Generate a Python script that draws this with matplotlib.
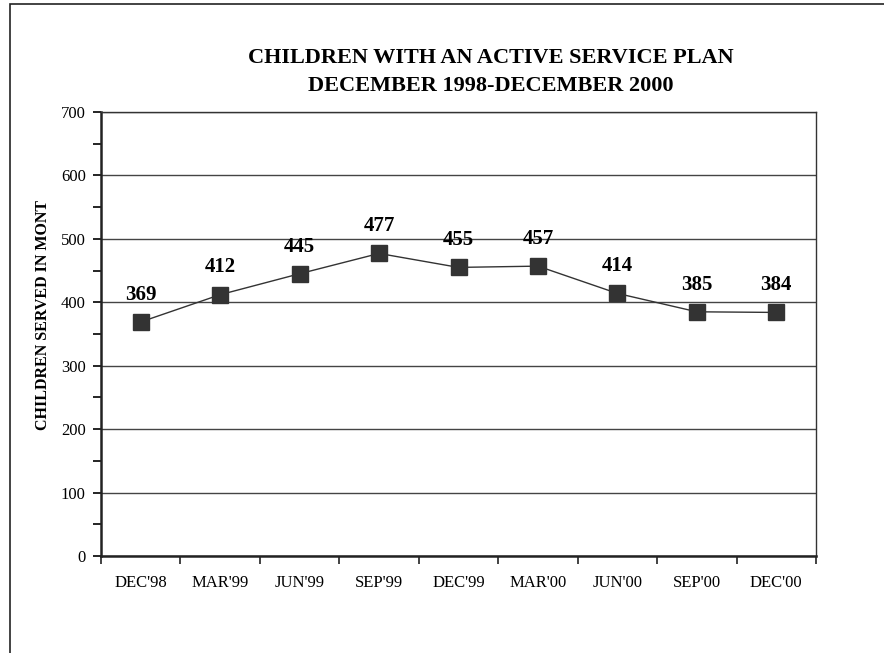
import matplotlib
matplotlib.use("Agg")
import matplotlib.pyplot as plt
from matplotlib.patches import Rectangle
from matplotlib.ticker import MultipleLocator, FixedLocator

categories = ["DEC'98", "MAR'99", "JUN'99", "SEP'99", "DEC'99", "MAR'00", "JUN'00", "SEP'00", "DEC'00"]
values = [369, 412, 445, 477, 455, 457, 414, 385, 384]

plt.rcParams['font.family'] = ['Liberation Serif', 'DejaVu Serif']

W, H = 884, 653
fig = plt.figure(figsize=(W / 100, H / 100), dpi=100)
fig.patch.set_facecolor('white')

# outer frame
fig.add_artist(Rectangle((10 / W, -0.05), 1.1, 1 - 4 / H + 0.05, transform=fig.transFigure,
                         fill=False, edgecolor='#222222', linewidth=1.2))

left, right, top, bottom = 101, 816, 112, 556
ax = fig.add_axes([left / W, 1 - bottom / H, (right - left) / W, (bottom - top) / H])

x = list(range(len(categories)))
ax.plot(x, values, color='#333333', linewidth=1.0, marker='s', markersize=12,
        markerfacecolor='#333333', markeredgecolor='#333333', zorder=3)
for xi, v in zip(x, values):
    ax.annotate(str(v), (xi, v), xytext=(0, 16), textcoords='offset points',
                ha='center', va='baseline', fontsize=15, fontweight='bold', color='black')

ax.set_xlim(-0.5, len(categories) - 0.5)
ax.set_ylim(0, 700)
ax.yaxis.set_major_locator(MultipleLocator(100))
ax.yaxis.set_minor_locator(MultipleLocator(50))
ax.yaxis.grid(True, which='major', color='#444444', linewidth=1.0)
ax.set_axisbelow(True)

ax.set_xticks(x)
ax.set_xticklabels(categories, fontsize=12)
ax.xaxis.set_minor_locator(FixedLocator([i - 0.5 for i in range(len(categories) + 1)]))
ax.tick_params(axis='x', which='major', length=0, pad=14)
ax.tick_params(axis='x', which='minor', length=6, width=1.2, direction='out', color='#222222')
ax.tick_params(axis='y', which='major', length=6, width=1.2, direction='out', labelsize=12, pad=5)
ax.tick_params(axis='y', which='minor', length=6, width=1.2, direction='out')

for s in ['left', 'bottom']:
    ax.spines[s].set_linewidth(1.8)
    ax.spines[s].set_color('#222222')
for s in ['top', 'right']:
    ax.spines[s].set_linewidth(1.0)
    ax.spines[s].set_color('#333333')

fig.text(43 / W, 1 - 315 / H, "CHILDREN SERVED IN MONT", rotation=90, ha='center', va='center',
         fontsize=11.5, fontweight='bold')

fig.text(491 / W, 1 - 58 / H, "CHILDREN WITH AN ACTIVE SERVICE PLAN", ha='center', va='center',
         fontsize=16, fontweight='bold')
fig.text(491 / W, 1 - 86 / H, "DECEMBER 1998-DECEMBER 2000", ha='center', va='center',
         fontsize=16, fontweight='bold')

fig.savefig("out.png", dpi=100)
